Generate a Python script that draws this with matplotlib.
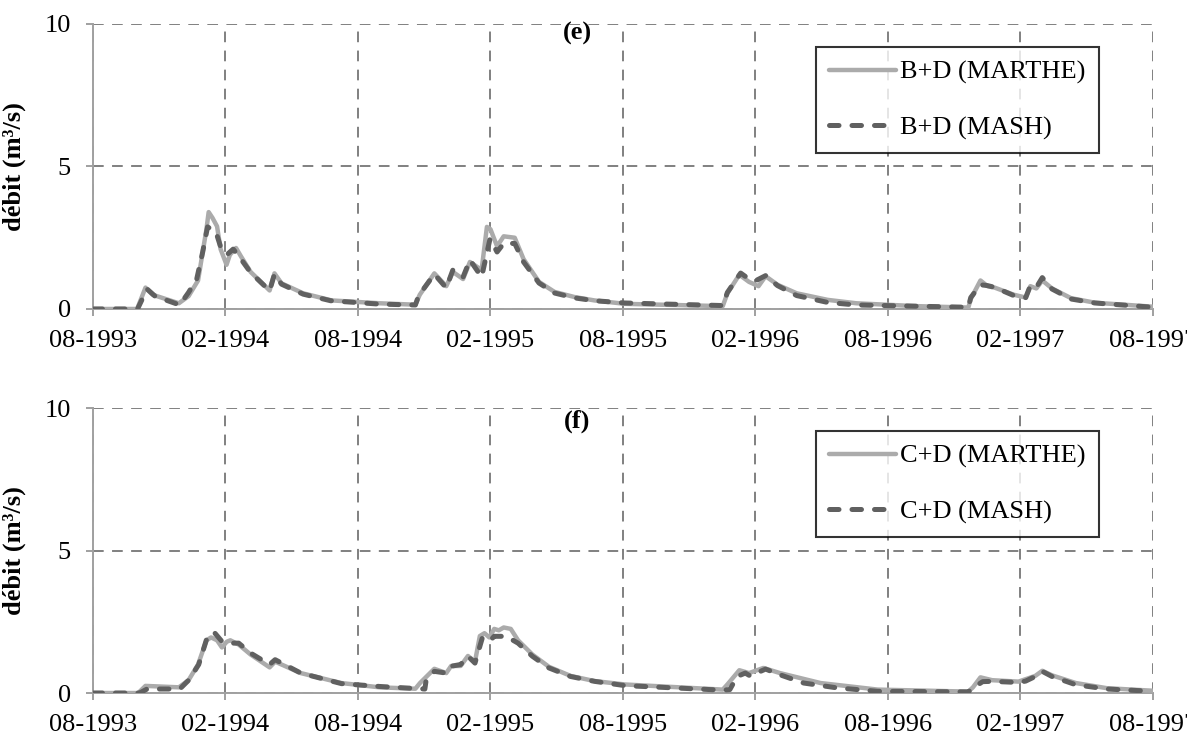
import matplotlib.pyplot as plt

# mois depuis 08-1993
tick_pos = [0, 6, 12, 18, 24, 30, 36, 42, 48]
tick_labels = ['08-1993', '02-1994', '08-1994', '02-1995', '08-1995',
               '02-1996', '08-1996', '02-1997', '08-1997']

# (e) B+D
e_marthe_t = [0, 2.0, 2.38, 2.7, 3.89, 4.33, 4.76, 5.14, 5.24, 5.41, 5.62, 5.78, 6.05, 6.2,
              6.48, 6.7, 7.14, 8.0, 8.22, 8.54, 9.52, 10.81, 12.98, 14.6, 14.8, 15.46, 16.0,
              16.3, 16.76, 17.07, 17.6, 17.84, 18.0, 18.3, 18.6, 19.1, 19.5, 20.2, 20.9,
              21.8, 22.71, 24.09, 28.52, 28.73, 29.27, 29.71,
              30.14, 30.46, 31.0, 31.87, 33.27, 34.57, 37.27, 39.64, 39.75, 40.19, 40.51,
              40.83, 41.7, 42.24, 42.45, 42.72, 42.99, 43.43, 44.29, 45.37, 48]
e_marthe_q = [0, 0, 0.75, 0.5, 0.2, 0.45, 1.0, 2.8, 3.4, 3.2, 2.9, 2.1, 1.55, 1.9,
              2.14, 1.85, 1.3, 0.65, 1.25, 0.9, 0.55, 0.3, 0.2, 0.15, 0.5, 1.25, 0.8,
              1.3, 1.05, 1.65, 1.37, 2.88, 2.8, 2.2, 2.55, 2.5, 1.75, 0.95, 0.6,
              0.42, 0.3, 0.18, 0.1, 0.55, 1.2, 0.95,
              0.8, 1.15, 0.85, 0.55, 0.32, 0.2, 0.1, 0.05, 0.35, 1.0, 0.8,
              0.75, 0.5, 0.4, 0.8, 0.72, 1.0, 0.72, 0.38, 0.22, 0.08]

e_mash_t = [0, 2.02, 2.45, 2.81, 3.93, 4.33, 4.7, 4.97, 5.19, 5.57, 5.84, 6.09, 6.35, 6.6,
            7.14, 8.0, 8.22, 8.54, 9.52, 10.76, 12.98, 14.6, 14.75, 15.46, 16.0, 16.3,
            16.76, 17.07, 17.6, 17.98, 18.3, 18.6, 19.1, 19.5, 20.2, 20.9, 21.8,
            22.71, 24.09, 28.52, 28.73, 29.33, 29.71, 30.03, 30.46, 31.0, 31.87,
            33.27, 34.57, 39.64, 39.75, 40.19, 40.51, 40.83, 41.7, 42.24, 42.45, 42.72,
            42.99, 43.43, 44.29, 45.37, 48]
e_mash_q = [0, 0, 0.7, 0.45, 0.14, 0.58, 1.05, 2.0, 2.88, 2.7, 2.04, 1.92, 2.1, 1.86,
            1.28, 0.64, 1.22, 0.87, 0.52, 0.29, 0.17, 0.14, 0.47, 1.22, 0.74, 1.37,
            1.12, 1.72, 1.12, 2.46, 2.0, 2.3, 2.3, 1.65, 0.91, 0.56, 0.39,
            0.29, 0.21, 0.12, 0.58, 1.26, 1.05, 1.0, 1.17, 0.82, 0.47,
            0.23, 0.14, 0.06, 0.4, 0.85, 0.82, 0.76, 0.47, 0.4, 0.82, 0.76,
            1.1, 0.7, 0.35, 0.21, 0.06]

# (f) C+D
f_marthe_t = [0, 2.05, 2.38, 3.89, 4.33, 4.76, 5.14, 5.35, 5.62, 5.84, 6.06, 6.22, 6.6,
              7.14, 8.0, 8.25, 9.41, 11.25, 12.98, 14.6, 14.81, 15.46, 16.0, 16.22, 16.65,
              16.98, 17.3, 17.52, 17.73, 17.95, 18.17, 18.38, 18.6, 18.92, 19.25, 19.9,
              20.65, 21.63, 22.71, 24.09, 28.52, 28.73, 29.27, 29.71, 30.36, 31.11, 32.95,
              35.54, 39.64, 39.85, 40.19, 40.72, 41.91, 42.67, 42.99, 43.43, 44.51, 45.91, 48]
f_marthe_q = [0, 0, 0.25, 0.2, 0.45, 1.0, 1.85, 1.95, 1.85, 1.6, 1.8, 1.85, 1.7,
              1.35, 0.9, 1.1, 0.7, 0.35, 0.2, 0.15, 0.35, 0.85, 0.7, 0.95, 0.95,
              1.3, 1.1, 2.0, 2.1, 1.95, 2.25, 2.2, 2.3, 2.25, 1.85, 1.35,
              0.92, 0.6, 0.42, 0.3, 0.12, 0.3, 0.8, 0.7, 0.88, 0.7, 0.35,
              0.12, 0.05, 0.2, 0.55, 0.45, 0.4, 0.6, 0.78, 0.62, 0.35, 0.17, 0.08]

f_mash_t = [0, 2.11, 2.45, 3.93, 4.36, 4.79, 5.14, 5.48, 5.84, 6.09, 6.6, 7.14, 8.0, 8.25,
            9.41, 11.25, 12.98, 15.03, 15.08, 15.46, 16.0, 16.22, 16.65, 16.98, 17.3, 17.63,
            17.95, 18.17, 18.71, 19.25, 19.9, 20.65, 21.63, 22.71, 24.09, 28.52, 28.84,
            29.17, 29.54, 29.76, 30.46, 31.11, 32.19, 33.7, 35.54, 39.64, 39.96, 40.29,
            40.72, 41.91, 42.24, 42.67, 42.99, 43.43, 44.51, 45.91, 48]
f_mash_q = [0, 0, 0.14, 0.14, 0.47, 1.0, 1.87, 2.14, 1.81, 1.75, 1.75, 1.4, 1.0, 1.17,
            0.7, 0.33, 0.23, 0.14, 0.41, 0.76, 0.7, 0.94, 1.0, 1.29, 1.05, 1.93,
            1.81, 1.99, 1.99, 1.75, 1.29, 0.88, 0.58, 0.41, 0.26, 0.1, 0.12,
            0.58, 0.7, 0.6, 0.84, 0.64, 0.35, 0.18, 0.06, 0.04, 0.23, 0.4,
            0.41, 0.37, 0.42, 0.58, 0.76, 0.58, 0.29, 0.14, 0.06]

plt.rcParams['font.family'] = ['Liberation Serif', 'DejaVu Serif']
plt.rcParams['font.size'] = 19

GRID = '#808080'
AXIS = '#a0a0a0'


def draw_panel(ax, marthe, mash, names, tag, tag_y):
    ax.plot(*marthe, color='#ababab', lw=3.2, solid_capstyle='round',
            label=names[0], zorder=3)
    ax.plot(*mash, color='#606060', lw=3.6, dashes=(1.9, 2.6), dash_capstyle='round',
            label=names[1], zorder=4)

    ax.set_xlim(0, 48)
    ax.set_ylim(0, 10)
    ax.set_xticks(tick_pos)
    ax.set_xticklabels(tick_labels)
    ax.set_yticks([0, 5, 10])

    # grille en tirets
    ax.grid(True, color=GRID, ls=(0, (5.5, 4.3)), lw=1.4)
    ax.set_axisbelow(True)
    for s in ('top', 'right'):
        ax.spines[s].set_visible(False)
    for s in ('left', 'bottom'):
        ax.spines[s].set_color(AXIS)
        ax.spines[s].set_linewidth(1.4)
    ax.tick_params(axis='x', color=AXIS, width=1.4, length=5, pad=10)
    ax.tick_params(axis='y', color=AXIS, width=1.4, length=5, pad=11)

    ax.set_ylabel('débit (m³/s)', fontweight='bold', fontsize=19)
    ax.yaxis.set_label_coords(-0.063, 0.5)
    ax.text(0.457, tag_y, tag, transform=ax.transAxes, fontweight='bold',
            fontsize=19, ha='center', va='center')

    leg = ax.legend(loc='upper left', bbox_to_anchor=(0.682, 0.919),
                    handlelength=2.55, handletextpad=0.15, labelspacing=1.2,
                    borderpad=0.5, borderaxespad=0, fancybox=False, fontsize=19)
    leg.get_frame().set_edgecolor('black')
    leg.get_frame().set_linewidth(1.5)


def main():
    fig = plt.figure(figsize=(11.87, 7.36), dpi=100)
    ax1 = fig.add_axes([0.0783, 0.5802, 0.893, 0.3872])
    ax2 = fig.add_axes([0.0783, 0.0584, 0.893, 0.3872])

    draw_panel(ax1, (e_marthe_t, e_marthe_q), (e_mash_t, e_mash_q),
               ('B+D (MARTHE)', 'B+D (MASH)'), '(e)', 0.968)
    draw_panel(ax2, (f_marthe_t, f_marthe_q), (f_mash_t, f_mash_q),
               ('C+D (MARTHE)', 'C+D (MASH)'), '(f)', 0.955)

    fig.savefig('out.png', dpi=100)


if __name__ == '__main__':
    main()
